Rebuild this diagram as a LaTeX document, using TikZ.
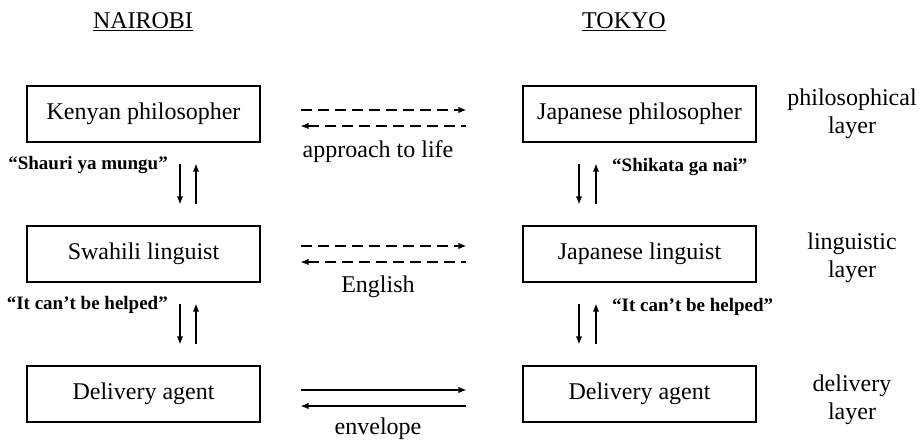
\documentclass[tikz,border=0pt]{standalone}
\usepackage{fontspec}
\setmainfont{Liberation Serif}
\usetikzlibrary{arrows.meta}
\begin{document}
\begin{tikzpicture}[x=1pt,y=-1pt,
  box/.style={draw,line width=1.1pt,minimum width=233pt,minimum height=56pt,inner sep=0pt,font=\fontsize{24}{28}\selectfont},
  txt/.style={inner sep=0pt,font=\fontsize{24}{28}\selectfont},
  layerlbl/.style={inner sep=0pt,align=center,font=\fontsize{24}{28}\selectfont},
  quote/.style={inner sep=0pt,font=\fontsize{19}{22}\selectfont\bfseries},
  harr/.style={line width=1.3pt,-{Latex[length=8pt,width=6.5pt]},shorten <=40pt,shorten >=56pt},
  harrback/.style={line width=1.3pt,{Latex[length=8pt,width=6.5pt]}-,shorten <=40pt,shorten >=56pt},
  varr/.style={line width=1.4pt,-{Latex[length=8pt,width=6.5pt]},shorten <=21pt,shorten >=21pt},
  dsh/.style={dash pattern=on 11pt off 6pt}]
\useasboundingbox (0,0) rectangle (921,443);

% headings
\node[txt,anchor=base] (hn) at (143,29) {\underline{NAIROBI}};
\node[txt,anchor=base] (ht) at (624,29) {\underline{TOKYO}};

% boxes
\node[box] (kp) at (143.5,114) {Kenyan philosopher};
\node[box] (jp) at (639.5,114) {Japanese philosopher};
\node[box] (sl) at (143.5,254) {Swahili linguist};
\node[box] (jl) at (639.5,254) {Japanese linguist};
\node[box] (dl) at (143.5,394) {Delivery agent};
\node[box] (dr) at (639.5,394) {Delivery agent};

% layer labels
\node[layerlbl] (lp) at (852,114) {philosophical\\layer};
\node[layerlbl] (ll) at (852,258) {linguistic\\layer};
\node[layerlbl] (ld) at (852,400) {delivery\\layer};

% horizontal arrows
\draw[harr,dsh] ([yshift=4pt]kp.east) -- ([yshift=4pt]jp.west);
\draw[harrback,dsh] ([yshift=-12pt]kp.east) -- ([yshift=-12pt]jp.west);
\draw[harr,dsh] ([yshift=8pt]sl.east) -- ([yshift=8pt]jl.west);
\draw[harrback,dsh] ([yshift=-8pt]sl.east) -- ([yshift=-8pt]jl.west);
\draw[harr] ([yshift=4pt]dl.east) -- ([yshift=4pt]dr.west);
\draw[harrback] ([yshift=-12pt]dl.east) -- ([yshift=-12pt]dr.west);

\node[txt,anchor=base] (a1) at (378,158) {approach to life};
\node[txt,anchor=base] (a2) at (378,293) {English};
\node[txt,anchor=base] (a3) at (378,435) {envelope};

% vertical arrows
\draw[varr] ([xshift=36.5pt]kp.south) -- ([xshift=36.5pt]sl.north);
\draw[varr] ([xshift=52.5pt]sl.north) -- ([xshift=52.5pt]kp.south);
\draw[varr] ([xshift=36.5pt]sl.south) -- ([xshift=36.5pt]dl.north);
\draw[varr] ([xshift=52.5pt]dl.north) -- ([xshift=52.5pt]sl.south);
\draw[varr] ([xshift=-60.5pt]jp.south) -- ([xshift=-60.5pt]jl.north);
\draw[varr] ([xshift=-43.5pt]jl.north) -- ([xshift=-43.5pt]jp.south);
\draw[varr] ([xshift=-60.5pt]jl.south) -- ([xshift=-60.5pt]dr.north);
\draw[varr] ([xshift=-43.5pt]dr.north) -- ([xshift=-43.5pt]jl.south);

% quote labels
\node[quote,anchor=base east] (q1) at (168,170) {“Shauri ya mungu”};
\node[quote,anchor=base west] (q2) at (612,172) {“Shikata ga nai”};
\node[quote,anchor=base east] (q3) at (168,310) {“It can’t be helped”};
\node[quote,anchor=base west] (q4) at (612,312) {“It can’t be helped”};
\end{tikzpicture}
\end{document}
